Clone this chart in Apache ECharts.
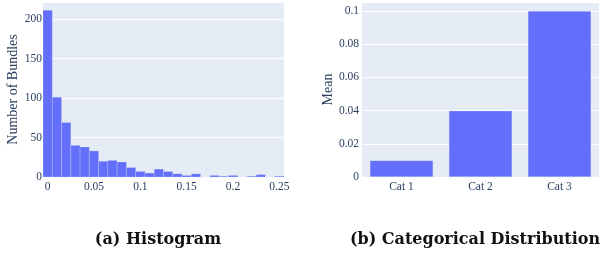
<!DOCTYPE html>
<html>
<head>
<meta charset="utf-8">
<script src="https://cdn.jsdelivr.net/npm/echarts@6/dist/echarts.min.js"></script>
<style>html,body{margin:0;padding:0;background:#fff;}#c{width:608px;height:258px;}</style>
</head>
<body>
<div id="c"></div>
<script>
// Histogram data (bin centers, width 0.01)
var binCenters = [0,0.01,0.02,0.03,0.04,0.05,0.06,0.07,0.08,0.09,0.10,0.11,0.12,0.13,0.14,0.15,0.16,0.17,0.18,0.19,0.20,0.21,0.22,0.23,0.24,0.25];
var binCounts  = [211,101,69,40,38,33,20,21,19,12,7,5,10,7,4,2,4,0,2,1,2,0,1,3,0,1];
var binWidth = 0.01;
var histXTicks = [0,0.05,0.1,0.15,0.2,0.25];

// Categorical data
var categories = ['Cat 1','Cat 2','Cat 3'];
var catMeans = [0.01,0.04,0.1];

var captions = ['(a) Histogram','(b) Categorical Distribution'];

var FONT = '"Liberation Serif", "Times New Roman", serif';
var TXT = '#2a3f5f';
var BG = '#E5ECF6';
var BAR = '#636EFA';
var TICK_FS = 11.5;

var histData = binCenters.map(function(c,i){ return [c, binCounts[i]]; });

var chart = echarts.init(document.getElementById('c'), null, {renderer:'canvas'});
chart.setOption({
  animation:false,
  textStyle:{fontFamily:FONT},
  grid:[
    {left:43, top:2, width:241, height:175, show:true, backgroundColor:BG, borderWidth:0, containLabel:false},
    {left:362, top:2, width:237, height:175, show:true, backgroundColor:BG, borderWidth:0, containLabel:false}
  ],
  xAxis:[
    {gridIndex:0, type:'value', min:-0.005, max:0.255,
     axisLine:{show:false}, axisTick:{show:false}, splitLine:{show:false},
     axisLabel:{customValues:histXTicks, color:TXT, fontFamily:FONT, fontSize:TICK_FS, margin:4,
       formatter:function(v){return String(+v.toFixed(3));}}},
    {gridIndex:1, type:'category', data:categories,
     axisLine:{show:false}, axisTick:{show:false}, splitLine:{show:false},
     axisLabel:{color:TXT, fontFamily:FONT, fontSize:TICK_FS, margin:4}}
  ],
  yAxis:[
    {gridIndex:0, type:'value', min:0, max:221.5, interval:50,
     name:'Number of Bundles', nameLocation:'middle', nameGap:23, nameRotate:90,
     nameTextStyle:{color:TXT, fontFamily:FONT, fontSize:14},
     axisLine:{show:false}, axisTick:{show:false},
     splitLine:{show:true, lineStyle:{color:'#ffffff', width:1}},
     axisLabel:{color:TXT, fontFamily:FONT, fontSize:TICK_FS, margin:1, showMaxLabel:false}},
    {gridIndex:1, type:'value', min:0, max:0.1055, interval:0.02,
     name:'Mean', nameLocation:'middle', nameGap:27, nameRotate:90,
     nameTextStyle:{color:TXT, fontFamily:FONT, fontSize:14},
     axisLine:{show:false}, axisTick:{show:false},
     splitLine:{show:true, lineStyle:{color:'#ffffff', width:1}},
     axisLabel:{color:TXT, fontFamily:FONT, fontSize:TICK_FS, margin:3, showMaxLabel:false,
       formatter:function(v){return String(+v.toFixed(4));}}}
  ],
  series:[
    {type:'custom', xAxisIndex:0, yAxisIndex:0, data:histData,
     renderItem:function(params, api){
       var c = api.value(0), v = api.value(1);
       var p1 = api.coord([c - binWidth/2, v]);
       var p2 = api.coord([c + binWidth/2, 0]);
       return {type:'rect', shape:{x:p1[0], y:p1[1], width:p2[0]-p1[0], height:p2[1]-p1[1]},
         style:{fill:BAR, stroke:'rgba(229,236,246,0.5)', lineWidth:0.5}};
     }},
    {type:'bar', xAxisIndex:1, yAxisIndex:1, data:catMeans, barCategoryGap:'20%',
     itemStyle:{color:BAR, borderColor:'rgba(229,236,246,0.5)', borderWidth:0.5}}
  ],
  graphic:[
    {type:'text', x:158, y:240, style:{text:captions[0], fill:'#111', font:'bold 16px "DejaVu Serif", serif', textAlign:'center', textVerticalAlign:'middle'}},
    {type:'text', x:475, y:240, style:{text:captions[1], fill:'#111', font:'bold 16px "DejaVu Serif", serif', textAlign:'center', textVerticalAlign:'middle'}}
  ]
});
</script>
</body>
</html>
